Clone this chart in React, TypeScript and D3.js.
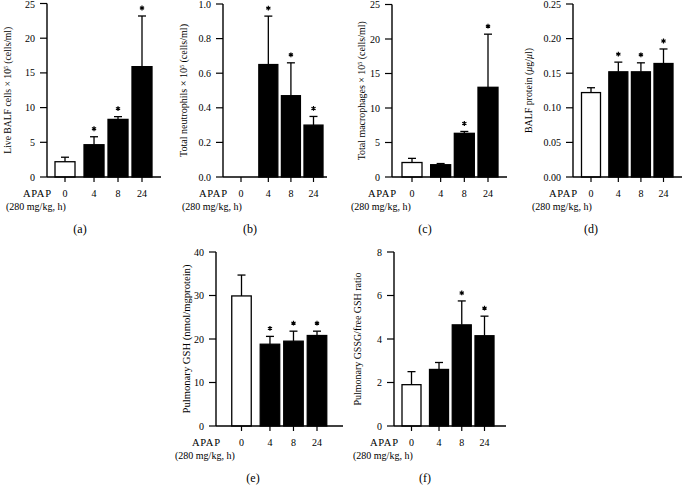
import React from 'react';
import * as d3 from 'd3';

// ---------- data ----------
const timepoints = ['0', '4', '8', '24'];

const liveCellsMean = [2.2, 4.65, 8.3, 15.9];
const liveCellsSem = [0.65, 1.15, 0.4, 7.3];
const liveCellsSig = [false, true, true, true];

const neutrophilsMean = [0, 0.65, 0.47, 0.3];
const neutrophilsSem = [0, 0.28, 0.19, 0.05];
const neutrophilsSig = [false, true, true, true];

const macrophagesMean = [2.1, 1.78, 6.33, 13.0];
const macrophagesSem = [0.6, 0.17, 0.27, 7.7];
const macrophagesSig = [false, false, true, true];

const proteinMean = [0.122, 0.152, 0.152, 0.164];
const proteinSem = [0.007, 0.014, 0.013, 0.021];
const proteinSig = [false, true, true, true];

const gshMean = [29.9, 18.8, 19.5, 20.8];
const gshSem = [4.8, 1.8, 2.3, 1.0];
const gshSig = [false, true, true, true];

const ratioMean = [1.9, 2.6, 4.65, 4.15];
const ratioSem = [0.6, 0.32, 1.1, 0.9];
const ratioSig = [false, false, true, true];

const liveCellsTicks = [0, 5, 10, 15, 20, 25];
const neutrophilsTicks = [0, 0.2, 0.4, 0.6, 0.8, 1.0];
const macrophagesTicks = [0, 5, 10, 15, 20, 25];
const proteinTicks = [0, 0.05, 0.1, 0.15, 0.2, 0.25];
const gshTicks = [0, 10, 20, 30, 40];
const ratioTicks = [0, 2, 4, 6, 8];

const xAxisName = 'APAP';
const xAxisUnit = '(280 mg/kg, h)';

// ---------- layout ----------
const slotOffsets = [0, 1.21, 2.21, 3.21];
const FONT = '"Liberation Serif", "DejaVu Serif", serif';
const asteriskPath = d3.symbol().type(d3.symbolAsterisk).size(16)() as string;

type Panel = {
  letter: string;
  letterX: number;
  mean: number[];
  sem: number[];
  sig: boolean[];
  ticks: number[];
  fmt: (v: number) => string;
  title: React.ReactNode;
  titleLen: number;
  titleX: number;
  axisX: number;
  yTop: number;
  yZero: number;
  xEnd: number;
  c0: number;
  c3: number;
  barW: number;
};

const sup = (pre: string, post: string) => (
  <>
    {pre}
    <tspan baselineShift="super" fontSize="6">5</tspan>
    {post}
  </>
);

const panels: Panel[] = [
  {
    letter: '(a)', letterX: 80, mean: liveCellsMean, sem: liveCellsSem, sig: liveCellsSig, ticks: liveCellsTicks,
    fmt: d3.format('d'), title: sup('Live BALF cells × 10', ' (cells/ml)'), titleLen: 127, titleX: 11,
    axisX: 47, yTop: 3.5, yZero: 177, xEnd: 161, c0: 65, c3: 142, barW: 20,
  },
  {
    letter: '(b)', letterX: 250, mean: neutrophilsMean, sem: neutrophilsSem, sig: neutrophilsSig, ticks: neutrophilsTicks,
    fmt: d3.format('.1f'), title: sup('Total neutrophils × 10', ' (cells/ml)'), titleLen: 133, titleX: 187,
    axisX: 223, yTop: 4, yZero: 177, xEnd: 327, c0: 241, c3: 313.5, barW: 19,
  },
  {
    letter: '(c)', letterX: 425, mean: macrophagesMean, sem: macrophagesSem, sig: macrophagesSig, ticks: macrophagesTicks,
    fmt: d3.format('d'), title: sup('Total macrophages × 10', ' (cells/ml)'), titleLen: 139, titleX: 365,
    axisX: 392, yTop: 4.5, yZero: 177, xEnd: 507, c0: 412, c3: 488, barW: 20,
  },
  {
    letter: '(d)', letterX: 591, mean: proteinMean, sem: proteinSem, sig: proteinSig, ticks: proteinTicks,
    fmt: d3.format('.2f'), title: <>BALF protein (<tspan fontStyle="italic">μ</tspan>g/<tspan fontStyle="italic">μ</tspan>l)</>, titleLen: 85, titleX: 532,
    axisX: 573, yTop: 4, yZero: 177, xEnd: 682, c0: 591, c3: 663.5, barW: 19,
  },
  {
    letter: '(e)', letterX: 253, mean: gshMean, sem: gshSem, sig: gshSig, ticks: gshTicks,
    fmt: d3.format('d'), title: 'Pulmonary GSH (nmol/mgprotein)', titleLen: 149, titleX: 190,
    axisX: 216, yTop: 252, yZero: 426, xEnd: 343, c0: 241.5, c3: 317, barW: 19.5,
  },
  {
    letter: '(f)', letterX: 425, mean: ratioMean, sem: ratioSem, sig: ratioSig, ticks: ratioTicks,
    fmt: d3.format('d'), title: 'Pulmonary GSSG/free GSH ratio', titleLen: 133, titleX: 361,
    axisX: 394, yTop: 252, yZero: 426, xEnd: 506, c0: 411.5, c3: 484.5, barW: 19,
  },
];

function BarPanel({ p }: { p: Panel }) {
  const y = d3.scaleLinear()
    .domain([p.ticks[0], p.ticks[p.ticks.length - 1]])
    .range([p.yZero, p.yTop]);
  const x = d3.scaleLinear()
    .domain([slotOffsets[0], slotOffsets[slotOffsets.length - 1]])
    .range([p.c0, p.c3]);
  const midY = (p.yTop + p.yZero) / 2;
  const labelY = p.yZero + 20;
  const unitY = p.yZero + 33;
  const letterY = p.yZero + 56;
  const capHalf = 4;

  return (
    <g fontFamily={FONT} fill="#000">
      {p.mean.map((m, i) => {
        const cx = x(slotOffsets[i]);
        const top = y(m);
        return (
          <rect
            key={'b' + i}
            x={cx - p.barW / 2}
            y={top}
            width={p.barW}
            height={Math.max(0, p.yZero - top)}
            fill={i === 0 ? '#fff' : '#000'}
            stroke="#000"
            strokeWidth={1.3}
          />
        );
      })}
      {p.mean.map((m, i) => {
        if (p.sem[i] <= 0) return null;
        const cx = x(slotOffsets[i]);
        const top = y(m + p.sem[i]);
        return (
          <g key={'e' + i} stroke="#000" strokeWidth={1.3}>
            <line x1={cx} x2={cx} y1={y(m)} y2={top} />
            <line x1={cx - capHalf} x2={cx + capHalf} y1={top} y2={top} />
          </g>
        );
      })}
      {p.mean.map((m, i) =>
        p.sig[i] ? (
          <path
            key={'s' + i}
            d={asteriskPath}
            transform={`translate(${x(slotOffsets[i])},${y(m + p.sem[i]) - 8})`}
            fill="none"
            stroke="#000"
            strokeWidth={1.2}
          />
        ) : null
      )}
      <line x1={p.axisX} x2={p.axisX} y1={p.yTop} y2={p.yZero} stroke="#000" strokeWidth={1.4} />
      {p.ticks.map((t) => (
        <g key={'t' + t}>
          <line x1={p.axisX - 7} x2={p.axisX} y1={y(t)} y2={y(t)} stroke="#000" strokeWidth={1.2} />
          <text x={p.axisX - 12} y={Math.max(y(t) + 3.5, 8)} fontSize={10} textAnchor="end">{p.fmt(t)}</text>
        </g>
      ))}
      <line x1={p.axisX} x2={p.xEnd} y1={p.yZero} y2={p.yZero} stroke="#000" strokeWidth={1.4} />
      {timepoints.map((c, i) => {
        const cx = x(slotOffsets[i]);
        return (
          <g key={'x' + c}>
            <line x1={cx} x2={cx} y1={p.yZero} y2={p.yZero + 5} stroke="#000" strokeWidth={1.2} />
            <text x={cx} y={labelY} fontSize={10} textAnchor="middle">{c}</text>
          </g>
        );
      })}
      <text x={p.axisX - 24} y={labelY} fontSize={10.5} letterSpacing={0.7}>{xAxisName}</text>
      <text x={p.axisX - 41} y={unitY} fontSize={10}>{xAxisUnit}</text>
      <text
        transform={`translate(${p.titleX},${midY}) rotate(-90)`}
        fontSize={10}
        textAnchor="middle"
        textLength={p.titleLen}
        lengthAdjust="spacingAndGlyphs"
      >
        {p.title}
      </text>
      <text x={p.letterX} y={letterY} fontSize={12} textAnchor="middle">{p.letter}</text>
    </g>
  );
}

export default function App() {
  return (
    <svg width={682} height={497} style={{ position: 'absolute', left: 0, top: 0, background: '#fff' }}>
      <rect width={682} height={497} fill="#fff" />
      {panels.map((p) => (
        <BarPanel key={p.letter} p={p} />
      ))}
    </svg>
  );
}
